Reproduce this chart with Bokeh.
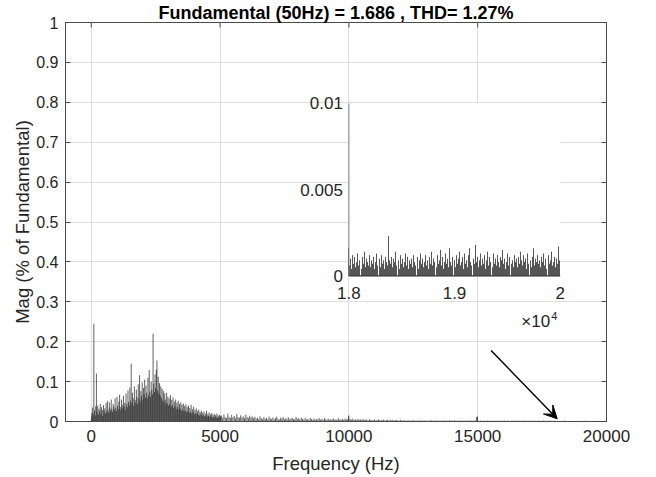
import numpy as np
from bokeh.plotting import figure
from bokeh.models import Range1d, FixedTicker, LinearAxis, Arrow, VeeHead
from bokeh.embed import file_html
from bokeh.resources import INLINE
from bokeh.core.properties import value

# ---------------- data ----------------
TITLE = "Fundamental (50Hz) = 1.686 , THD= 1.27%"
X_LABEL = "Frequency (Hz)"
Y_LABEL = "Mag (% of Fundamental)"

x_ticks = [0, 5000, 10000, 15000, 20000]
y_ticks = [0, 0.1, 0.2, 0.3, 0.4, 0.5, 0.6, 0.7, 0.8, 0.9, 1]
y_tick_labels = ["0", "0.1", "0.2", "0.3", "0.4", "0.5", "0.6", "0.7", "0.8", "0.9", "1"]

# 0 .. 5000 Hz, 25 Hz bins, magnitude in units of 1e-3 %
low_step = 25
mag_low_1e3 = [
    6, 22, 35, 18, 245, 28, 15, 38, 120, 24,
    40, 17, 32, 26, 44, 19, 36, 29, 14, 41,
    27, 33, 20, 46, 25, 52, 30, 22, 48, 35,
    27, 55, 31, 24, 44, 38, 29, 58, 34, 26,
    62, 40, 31, 50, 67, 36, 28, 55, 42, 33,
    64, 38, 47, 30, 70, 44, 36, 78, 49, 40,
    85, 52, 145, 45, 72, 58, 39, 88, 54, 47,
    80, 61, 44, 93, 57, 116, 50, 76, 64, 98,
    55, 84, 68, 105, 60, 90, 72, 58, 110, 66,
    129, 75, 62, 100, 80, 68, 220, 95, 74, 118,
    84, 130, 153, 78, 112, 70, 96, 64, 88, 59,
    82, 52, 76, 48, 70, 55, 43, 72, 46, 62,
    40, 58, 44, 66, 37, 54, 41, 60, 34, 50,
    38, 55, 31, 47, 36, 52, 29, 44, 33, 48,
    27, 42, 30, 45, 25, 39, 28, 43, 23, 36,
    26, 40, 21, 34, 24, 42, 20, 31, 23, 37,
    18, 29, 21, 33, 17, 26, 19, 30, 15, 24,
    18, 27, 14, 22, 16, 25, 13, 20, 15, 27,
    12, 19, 14, 23, 11, 18, 13, 21, 10, 17,
    12, 19, 10, 16, 11, 20, 9, 15, 11, 17,
    14,
]

# 5050 .. 17950 Hz, 50 Hz bins, magnitude in units of 1e-4 %
mid_start, mid_step = 5050, 50
mag_mid_1e4 = [
    150, 95, 180, 110, 85, 200, 120, 90, 165, 105, 140, 80, 190, 115, 95, 155, 100, 130, 85, 175,
    110, 90, 145, 100, 125, 80,
    120, 70, 95, 55, 130, 80, 60, 110, 65, 90, 50, 125, 75, 60, 100, 55, 85, 120, 65, 50,
    95, 70, 110, 55, 80, 60, 105, 50, 75, 90, 55, 65, 115, 60, 80, 50, 95,
    70, 45, 85, 50, 60, 40, 90, 55, 45, 75, 40, 65, 50, 80, 45, 60, 40, 85, 55, 45,
    70, 40, 60, 50, 75, 45, 55, 40, 80, 50, 45, 65, 40, 70, 50, 55,
    150,
    60, 45, 70, 40, 55, 35, 65, 45, 50, 35, 60, 40, 50,
    45, 30, 55, 35, 40, 28, 50, 32, 38, 45, 28, 42, 30, 48, 26, 36, 40, 25, 44, 30,
    35, 24, 38, 28, 32, 22, 35,
    28, 20, 32, 18, 25, 30, 17, 26, 22, 34, 19, 24, 28, 16, 30, 21, 25, 18, 29, 23,
    17, 27, 20, 31, 18, 24, 26, 15, 28, 20, 23, 17, 30, 19, 25, 22, 16, 27, 21, 24,
    18, 29, 20, 23, 15, 26, 19, 28, 17, 22, 25, 16, 24, 20, 27, 18, 21, 26,
    110,
    20, 14, 24, 16, 18, 22, 13, 19, 25, 15, 17, 21, 12, 20, 16, 23, 14, 18, 22, 13,
    19, 24, 15, 17, 20, 12, 21, 16, 18, 23, 14, 19, 22, 13, 17, 25, 15, 20, 16, 18,
    21, 12, 19, 23, 14, 17, 20, 15, 22, 13, 18, 24, 16, 19, 14, 21, 17, 20, 13, 18,
]

# 18000 .. 20000 Hz, 10 Hz bins, magnitude in units of 1e-4 % (zoomed inset)
inset_start, inset_step = 18000, 10
mag_inset_1e4 = [
    16, 6, 10, 4, 12, 7, 11, 5, 8, 13, 6, 9, 4, 11, 7, 14, 5, 10, 8, 6,
    12, 5, 9, 7, 11, 4, 8, 13, 6, 10, 5, 12, 7, 9, 4, 11, 8, 6, 23, 9,
    7, 11, 5, 10, 8, 14, 6, 9, 4, 12, 7, 10, 5, 8, 13, 6, 11, 4, 9, 7,
    10, 5, 12, 8, 6, 11, 4, 9, 13, 7, 10, 5, 8, 12, 6, 9, 4, 11, 7, 14,
    6, 10, 8, 5, 12, 7, 9, 15, 6, 11, 4, 8, 13, 7, 10, 5, 16, 8, 6, 11,
    9, 5, 12, 7, 10, 14, 6, 8, 11, 4, 13, 7, 9, 5, 12, 16, 8, 6, 10, 7,
    18, 8, 11, 5, 9, 13, 6, 10, 7, 12, 4, 9, 14, 6, 11, 8, 5, 13, 7, 10,
    6, 12, 8, 5, 11, 9, 15, 7, 10, 4, 8, 13, 6, 11, 7, 9, 5, 12, 8, 10,
    5, 11, 7, 14, 9, 6, 12, 8, 10, 4, 13, 7, 9, 5, 11, 16, 6, 10, 8, 12,
    7, 9, 5, 11, 8, 13, 6, 10, 4, 12, 7, 9, 14, 6, 8, 11, 5, 10, 7, 17,
    9,
]

inset_x_range = (18000, 20000)
inset_y_range = (0, 0.01)
inset_x_ticks = [18000, 19000, 20000]
inset_x_tick_labels = ["1.8", "1.9", "2"]
inset_y_ticks = [0, 0.005, 0.01]
inset_y_tick_labels = ["0", "0.005", "0.01"]

# arrow pointing at the zoomed band (data coordinates)
arrow_from = (15520, 0.178)
arrow_to = (18086, 0.0067)

# ---------------- derived arrays ----------------
f_low = np.arange(len(mag_low_1e3)) * low_step
m_low = np.array(mag_low_1e3) * 1e-3
f_mid = mid_start + np.arange(len(mag_mid_1e4)) * mid_step
m_mid = np.array(mag_mid_1e4) * 1e-4
f_ins = inset_start + np.arange(len(mag_inset_1e4)) * inset_step
m_ins = np.array(mag_inset_1e4) * 1e-4

freq = np.concatenate([f_low, f_mid, f_ins])
mag = np.concatenate([m_low, m_mid, m_ins])

FONT = "Liberation Sans"
TXT = "#262626"
AX = "#4a4a4a"
GRID = "#dedede"
BAR = "#1e1e1e"

p = figure(width=652, height=476, x_range=Range1d(-1000, 20000), y_range=Range1d(0, 1),
           output_backend="svg", toolbar_location=None, title=TITLE,
           min_border_left=65, min_border_right=46, min_border_top=19, min_border_bottom=55)
p.background_fill_color = "white"
p.border_fill_color = "white"
p.outline_line_color = AX
p.outline_line_width = 1

p.title.align = "center"
p.title.text_font = FONT
p.title.text_font_size = "18px"
p.title.text_font_style = "bold"
p.title.text_color = "black"
p.title.standoff = 0
p.title.offset = 0

p.xaxis.ticker = FixedTicker(ticks=x_ticks)
p.yaxis.ticker = FixedTicker(ticks=y_ticks)
p.yaxis.major_label_overrides = {t: s for t, s in zip(y_ticks, y_tick_labels)}
p.xgrid.ticker = FixedTicker(ticks=x_ticks)
p.ygrid.ticker = FixedTicker(ticks=y_ticks)
p.grid.grid_line_color = GRID
p.grid.grid_line_width = 1

for ax in (p.xaxis[0], p.yaxis[0]):
    ax.major_tick_in = 5
    ax.major_tick_out = 0
    ax.minor_tick_in = 0
    ax.minor_tick_out = 0
    ax.axis_line_color = AX
    ax.major_tick_line_color = AX
    ax.major_label_text_font = FONT
    ax.major_label_text_color = TXT
    ax.axis_label_text_font = FONT
    ax.axis_label_text_font_size = "18.5px"
    ax.axis_label_text_font_style = "normal"
    ax.axis_label_text_color = TXT

p.xaxis.major_label_text_font_size = "17px"
p.yaxis.major_label_text_font_size = "16px"
p.xaxis.axis_label = X_LABEL
p.yaxis.axis_label = Y_LABEL
p.xaxis.major_label_standoff = 8
p.xaxis.axis_label_standoff = 8
p.yaxis.major_label_standoff = 7
p.yaxis.axis_label_standoff = 0

# box-style ticks on the right edge
rax = LinearAxis(ticker=FixedTicker(ticks=y_ticks), major_tick_in=5, major_tick_out=0,
                 minor_tick_in=0, minor_tick_out=0, axis_line_color=AX,
                 major_tick_line_color=AX, major_label_text_font_size="0px",
                 major_label_standoff=0)
p.add_layout(rax, "right")

# main spectrum
p.segment(x0=freq, y0=0, x1=freq, y1=mag, line_color=BAR, line_alpha=0.7, line_width=1)

# top-edge tick marks of the box (drawn through the main scales)
p.scatter(x=x_ticks[:-1], y=[1] * (len(x_ticks) - 1), marker="dash", angle=np.pi / 2,
          size=10, line_color=AX, line_width=1)

# inset axes drawn in a sub-coordinate system
sub = p.subplot(x_source=Range1d(*inset_x_range), y_source=Range1d(*inset_y_range),
                x_target=Range1d(10000, 18200), y_target=Range1d(0.365, 0.797))
sub.quad(left=[inset_x_range[0]], right=[inset_x_range[1]], bottom=[inset_y_range[0]],
         top=[inset_y_range[1]], fill_color="white", line_color=None)
sub.segment(x0=f_ins, y0=0, x1=f_ins, y1=m_ins, line_color=BAR, line_alpha=0.75, line_width=1)
sub.segment(x0=[inset_x_range[0]], y0=[inset_y_range[0]], x1=[inset_x_range[0]], y1=[inset_y_range[1]],
            line_color="#808080", line_width=1)
sub.segment(x0=[inset_x_range[0]], y0=[inset_y_range[0]], x1=[inset_x_range[1]], y1=[inset_y_range[0]],
            line_color="#333333", line_width=1.2)
sub.text(x=[inset_x_range[0]] * 3, y=inset_y_ticks, text=inset_y_tick_labels, x_offset=-6,
         text_align="right", text_baseline="middle", text_font=value(FONT),
         text_font_size="17px", text_color=TXT)
sub.text(x=inset_x_ticks, y=[inset_y_range[0]] * 3, text=inset_x_tick_labels, y_offset=17,
         text_align="center", text_baseline="middle", text_font=value(FONT),
         text_font_size="17px", text_color=TXT)
sub.text(x=[inset_x_range[1]], y=[inset_y_range[0]], text=["×10"], x_offset=-10, y_offset=46,
         text_align="right", text_baseline="middle", text_font=value(FONT),
         text_font_size="17px", text_color=TXT)
sub.text(x=[inset_x_range[1]], y=[inset_y_range[0]], text=["4"], x_offset=-9, y_offset=40,
         text_align="left", text_baseline="middle", text_font=value(FONT),
         text_font_size="11px", text_color=TXT)

p.add_layout(Arrow(end=VeeHead(size=13, fill_color="black", line_color="black"),
                   x_start=arrow_from[0], y_start=arrow_from[1],
                   x_end=arrow_to[0], y_end=arrow_to[1],
                   line_color="black", line_width=1.5))

open("out.html", "w").write(file_html(p, INLINE))
